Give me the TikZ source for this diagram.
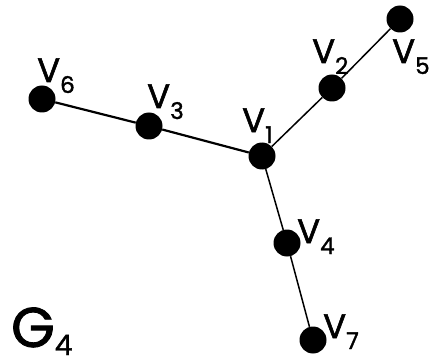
\documentclass[tikz,border=0pt]{standalone}
\usepackage{fontspec}
\setmainfont{Poppins}[FakeBold=1.6]
\newcommand\vsub[1]{\raisebox{-11pt}{\fontsize{23}{23}\selectfont #1}}
\begin{document}
\begin{tikzpicture}[x=1pt,y=-1pt,
  dot/.style={circle,fill=black,minimum size=27pt,inner sep=0pt},
  edge/.style={line width=1.5pt},
  lbl/.style={anchor=base west,inner sep=0pt,text depth=0pt,font=\fontsize{34}{34}\selectfont}]
\useasboundingbox (0,0) rectangle (429,361);
\node[dot] (v1) at (262,156) {};
\node[dot] (v2) at (332,88) {};
\node[dot] (v5) at (400,19) {};
\node[dot] (v3) at (149,126) {};
\node[dot] (v6) at (42,99) {};
\node[dot] (v4) at (287,243) {};
\node[dot] (v7) at (313,340) {};
\draw[edge,line width=2.2pt] (v6) -- (v3) -- (v1);
\draw[edge] (v1) -- (v2) -- (v5);
\draw[edge] (v1) -- (v4) -- (v7);
\node[lbl] (l6) at (37,82) {V\vsub{6}};
\node[lbl] (l3) at (147,108) {V\vsub{3}};
\node[lbl] (l1) at (242,132) {V\vsub{1}};
\node[lbl] (l2) at (312,63) {V\vsub{2}};
\node[lbl] (l5) at (392,63) {V\vsub{5}};
\node[lbl] (l4) at (297,243) {V\vsub{4}};
\node[lbl] (l7) at (323,338) {V\vsub{7}};
\node[anchor=base west,inner sep=0pt,text depth=0pt,font=\fontsize{56}{56}\selectfont] (g) at (11,347) {G\raisebox{-8pt}{\fontsize{28}{28}\selectfont 4}};
\end{tikzpicture}
\end{document}
